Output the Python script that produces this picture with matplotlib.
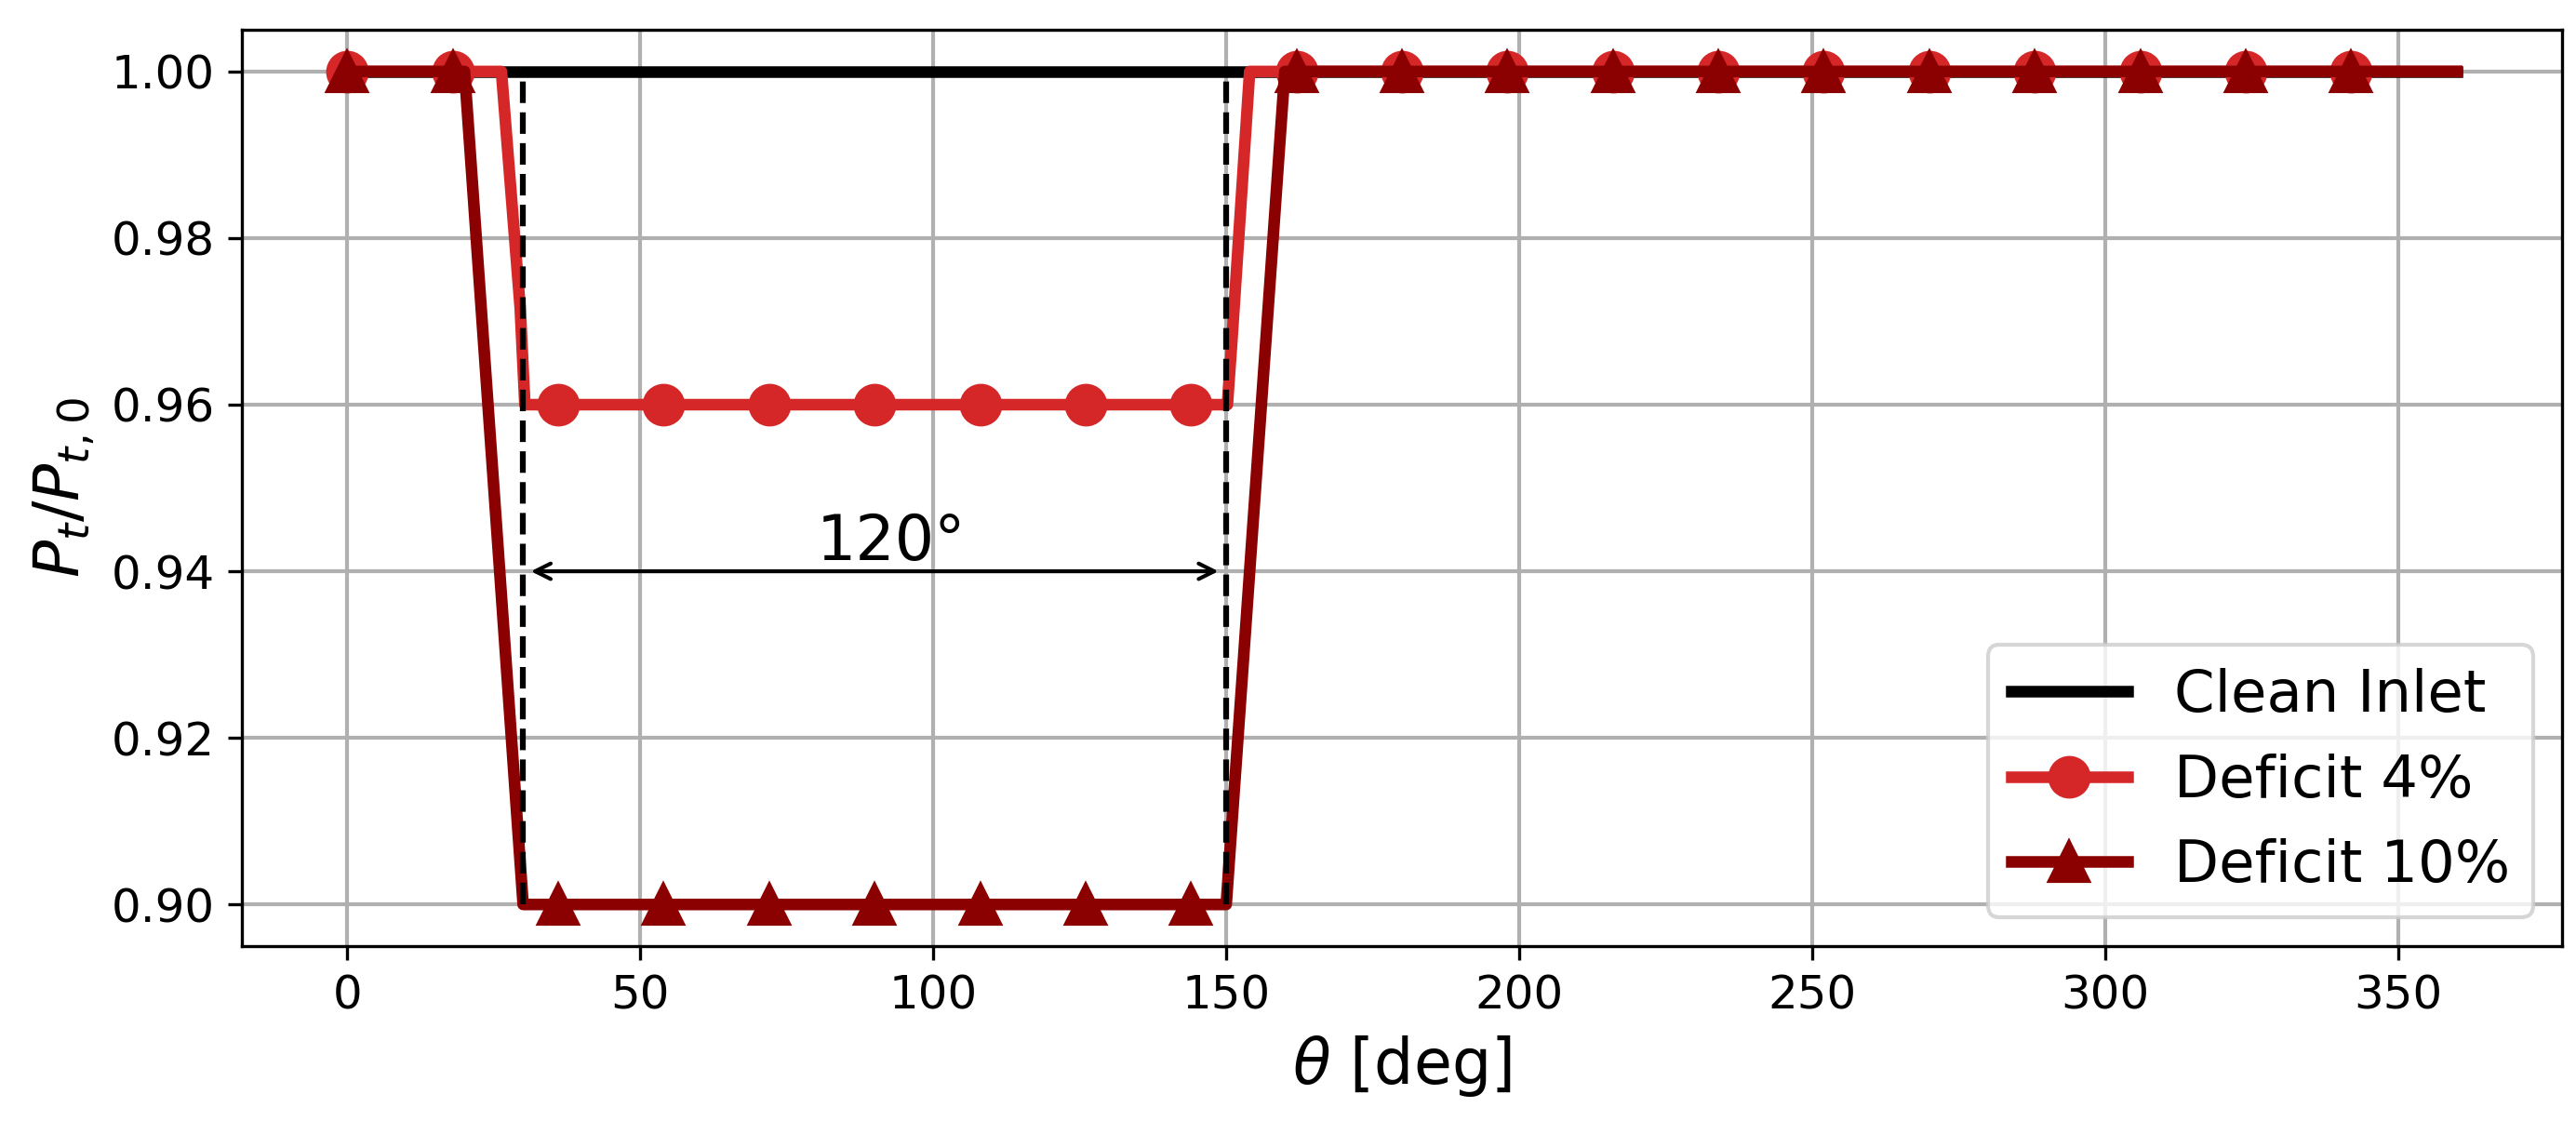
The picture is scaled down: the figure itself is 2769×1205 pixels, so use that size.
import matplotlib
matplotlib.use('Agg')
import matplotlib.pyplot as plt
from matplotlib.lines import Line2D

# ─── Profile data (theta in deg, total pressure ratio) ───
theta_clean = [0, 360]
pt_clean = [1.0, 1.0]

theta_d4 = [0, 26.3, 29.5, 30.3, 150.2, 151.0, 154.0, 360]
pt_d4 = [1.0, 1.0, 0.9716, 0.96, 0.96, 0.968, 1.0, 1.0]

theta_d10 = [0, 20, 30, 150, 160, 360]
pt_d10 = [1.0, 1.0, 0.90, 0.90, 1.0, 1.0]

# marker samples (every 18 deg)
theta_mk = [0, 18, 36, 54, 72, 90, 108, 126, 144, 162,
            180, 198, 216, 234, 252, 270, 288, 306, 324, 342]
pt_mk_d4 = [1.0, 1.0, 0.96, 0.96, 0.96, 0.96, 0.96, 0.96, 0.96, 1.0,
            1.0, 1.0, 1.0, 1.0, 1.0, 1.0, 1.0, 1.0, 1.0, 1.0]
pt_mk_d10 = [1.0, 1.0, 0.90, 0.90, 0.90, 0.90, 0.90, 0.90, 0.90, 1.0,
             1.0, 1.0, 1.0, 1.0, 1.0, 1.0, 1.0, 1.0, 1.0, 1.0]

# sector edges and span annotation
sector_edges = [30, 150]
sector_label = '120°'

c4 = '#d62728'
c10 = '#8b0000'

fig = plt.figure(figsize=(2769 / 300, 1205 / 300), dpi=300)
ax = fig.add_axes([0.0939, 0.156, 0.9007, 0.8174])

ax.plot(theta_clean, pt_clean, '-', color='black', lw=3)

ax.plot(theta_d4, pt_d4, '-', color=c4, lw=3)
ax.plot(theta_mk, pt_mk_d4, 'o', color=c4, ms=10)

ax.plot(theta_d10, pt_d10, '-', color=c10, lw=3)
ax.plot(theta_mk, pt_mk_d10, '^', color=c10, ms=10)

for xe in sector_edges:
    ax.plot([xe, xe], [0.90, 1.0], '--', color='black', lw=1.5)

ax.annotate('', xy=(sector_edges[0], 0.94), xytext=(sector_edges[1], 0.94),
            arrowprops=dict(arrowstyle='<->', color='black', lw=1))
ax.text(80, 0.9413, sector_label, fontsize=16)

# legend: line + marker combined
handles = [
    Line2D([], [], color='black', lw=3),
    Line2D([], [], color=c4, lw=3, marker='o', ms=10),
    Line2D([], [], color=c10, lw=3, marker='^', ms=10),
]
ax.legend(handles, ['Clean Inlet', 'Deficit 4%', 'Deficit 10%'],
          loc='lower right', fontsize=15, numpoints=1)

ax.set_xlabel(r'$\theta$ [deg]', fontsize=16)
ax.set_ylabel(r'$P_t/P_{t,0}$', fontsize=16)
ax.tick_params(labelsize=12)
ax.grid(True, lw=1.0)

fig.savefig('out.png', dpi=300)
